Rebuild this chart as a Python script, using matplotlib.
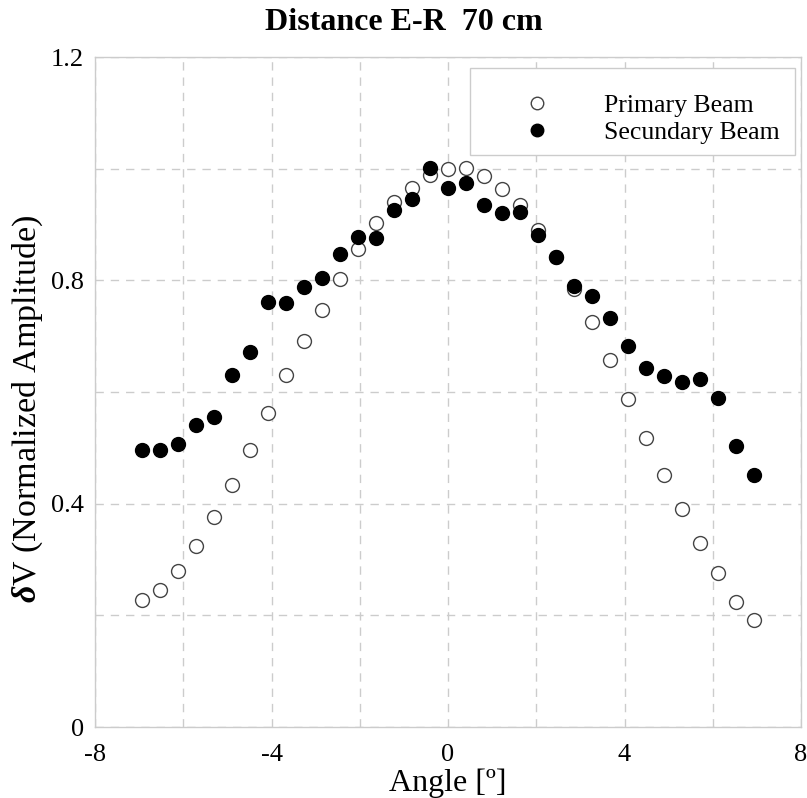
import matplotlib
matplotlib.use("Agg")
import matplotlib.pyplot as plt
from matplotlib.patches import Rectangle

plt.rcParams['font.family'] = ['Liberation Serif', 'DejaVu Serif']
plt.rcParams['mathtext.fontset'] = 'custom'
plt.rcParams['mathtext.bf'] = 'Liberation Serif:italic:bold'
plt.rcParams['mathtext.rm'] = 'Liberation Serif'

angles = [-6.94, -6.53, -6.12, -5.71, -5.30, -4.90, -4.49, -4.08, -3.67, -3.26,
          -2.86, -2.45, -2.04, -1.63, -1.22, -0.82, -0.41, 0.0, 0.41, 0.82,
          1.22, 1.63, 2.04, 2.45, 2.86, 3.26, 3.67, 4.08, 4.49, 4.90,
          5.30, 5.71, 6.12, 6.53, 6.94]

primary = [0.227, 0.246, 0.280, 0.325, 0.376, 0.433, 0.496, 0.563, 0.630, 0.691,
           0.747, 0.803, 0.857, 0.903, 0.941, 0.966, 0.988, 1.000, 1.001, 0.987,
           0.963, 0.935, 0.890, 0.842, 0.785, 0.725, 0.658, 0.588, 0.518, 0.451,
           0.391, 0.330, 0.276, 0.223, 0.192]

secondary = [0.496, 0.497, 0.506, 0.540, 0.555, 0.630, 0.671, 0.762, 0.759, 0.788,
             0.804, 0.848, 0.877, 0.875, 0.926, 0.945, 1.001, 0.966, 0.975, 0.935,
             0.920, 0.923, 0.881, 0.842, 0.790, 0.772, 0.733, 0.682, 0.643, 0.628,
             0.618, 0.624, 0.589, 0.503, 0.451]

xticks = [-8, -6, -4, -2, 0, 2, 4, 6, 8]
xticklabels = ['-8', '', '-4', '', '0', '', '4', '', '8']
yticks = [0, 0.2, 0.4, 0.6, 0.8, 1.0, 1.2]
yticklabels = ['0', '', '0.4', '', '0.8', '', '1.2']

fig = plt.figure(figsize=(8.07, 7.98), dpi=100)
ax = fig.add_axes([95/807, 1-727/798, (801-95)/807, (727-57)/798])

ax.plot(angles, primary, linestyle='none', marker='o', markersize=10,
        markerfacecolor='white', markeredgecolor='#444444', markeredgewidth=1.0,
        label='Primary Beam', zorder=3)
ax.plot(angles, secondary, linestyle='none', marker='o', markersize=10,
        markerfacecolor='black', markeredgecolor='black', markeredgewidth=1.0,
        label='Secundary Beam', zorder=4)

ax.set_xlim(-8, 8)
ax.set_ylim(0, 1.2)
ax.set_xticks(xticks)
ax.set_xticklabels(xticklabels)
ax.set_yticks(yticks)
ax.set_yticklabels(yticklabels)
ax.tick_params(length=0, labelsize=19)
ax.tick_params(axis='x', pad=12)
ax.tick_params(axis='y', pad=8)
ax.grid(True, color='#cccccc', linestyle=(0, (6, 5)), linewidth=1.0)
for s in ax.spines.values():
    s.set_color('#cccccc')
    s.set_linewidth(1.0)

ax.set_xlabel('Angle [º]', fontsize=23, labelpad=2)
ax.set_ylabel(r'$\mathbf{\delta}$V (Normalized Amplitude)', fontsize=24.5)
ax.yaxis.set_label_coords(-0.0708, 0.4746)
fig.text(0.5, 1 - 22/798, 'Distance E-R  70 cm', fontsize=23, fontweight='bold',
         ha='center', va='center')

# legend frame
ax.add_patch(Rectangle((0.5312, 0.8537), 0.9915 - 0.5312, 0.9836 - 0.8537,
                       transform=ax.transAxes, facecolor='white', edgecolor='#cccccc',
                       linewidth=1.0, zorder=5))
leg = ax.legend(loc='upper left', bbox_to_anchor=(0.5453, 0.9445), fontsize=18.5,
                frameon=False, markerscale=0.9, handletextpad=0.43, borderpad=0,
                borderaxespad=0, handlelength=4.4, labelspacing=0.15)
leg.set_zorder(6)

fig.savefig('out.png', dpi=100)
